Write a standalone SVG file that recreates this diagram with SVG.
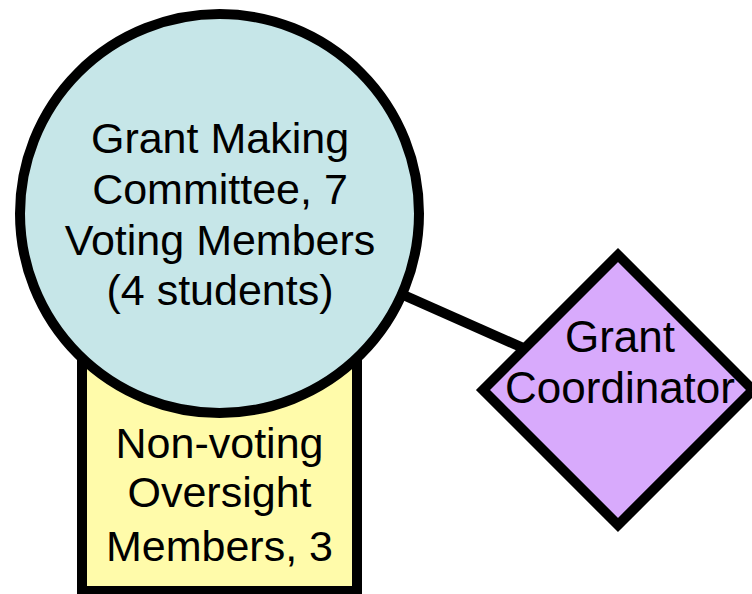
<svg xmlns="http://www.w3.org/2000/svg" width="752" height="594" viewBox="0 0 752 594">
<style>
.shape{stroke:#000;stroke-width:10;stroke-linejoin:miter}
.lbl{font-family:"Liberation Sans",Arial,sans-serif;fill:#000;text-anchor:middle}
.conn{stroke:#000;stroke-width:10;fill:none}
</style>
<rect width="752" height="594" fill="#fff"/>
<g id="connectors">
<line class="conn" x1="219.5" y1="213.5" x2="618" y2="390"/>
</g>
<g id="oversight">
<rect class="shape" x="82" y="300" width="275" height="291" fill="#FFFBAA"/>
<text class="lbl" font-size="43"><tspan x="219.5" y="458">Non-voting</tspan><tspan x="219.5" y="507">Oversight</tspan><tspan x="219.5" y="561">Members, 3</tspan></text>
</g>
<g id="committee">
<circle class="shape" cx="219.5" cy="213.5" r="199.5" fill="#C6E6E8"/>
<text class="lbl" font-size="43"><tspan x="220" y="153">Grant Making</tspan><tspan x="220" y="204">Committee, 7</tspan><tspan x="220" y="255">Voting Members</tspan><tspan x="220" y="305">(4 students)</tspan></text>
</g>
<g id="coordinator">
<polygon class="shape" points="618,255 753,390 618,525 483,390" fill="#D8AAFC"/>
<text class="lbl" font-size="44"><tspan x="620" y="352">Grant</tspan><tspan x="620" y="403">Coordinator</tspan></text>
</g>
</svg>
